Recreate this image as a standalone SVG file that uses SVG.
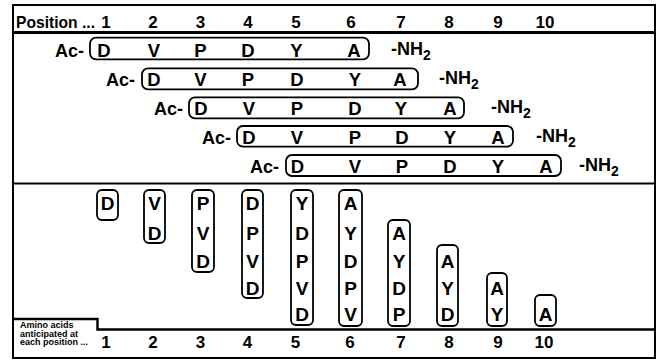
<svg xmlns="http://www.w3.org/2000/svg" width="656" height="362" viewBox="0 0 656 362">
<style>
.t{font-family:"Liberation Sans",Arial,sans-serif;font-weight:bold;fill:#000}
.lt{font-size:18.5px;text-anchor:middle}
.bl{font-size:19px;text-anchor:middle}
.hd{font-size:17px;text-anchor:middle}
.ac{font-size:18px;text-anchor:end}
.nh{font-size:18px}
.sm{font-size:9px}
.bx{fill:none;stroke:#000;stroke-width:1.8}
.ln{fill:none;stroke:#000}
</style>
<rect width="656" height="362" fill="#fff"/>
<g id="frame">
<rect x="13" y="5" width="642" height="353" class="ln" stroke-width="2"/>
<line x1="13" y1="32.5" x2="655" y2="32.5" class="ln" stroke-width="3"/>
<line x1="13" y1="183.5" x2="655" y2="183.5" class="ln" stroke-width="2"/>
<path d="M13 319 H97.5 V329.5 H655" class="ln" stroke-width="2.4"/>
</g>
<g id="header">
<text class="t" x="16" y="28" font-size="17" textLength="79" lengthAdjust="spacingAndGlyphs">Position ...</text>
<text class="t hd" x="106" y="28">1</text>
<text class="t hd" x="153" y="28">2</text>
<text class="t hd" x="200.5" y="28">3</text>
<text class="t hd" x="248" y="28">4</text>
<text class="t hd" x="296" y="28">5</text>
<text class="t hd" x="351" y="28">6</text>
<text class="t hd" x="401" y="28">7</text>
<text class="t hd" x="449" y="28">8</text>
<text class="t hd" x="498" y="28">9</text>
<text class="t hd" x="545" y="28">10</text>
</g>
<g id="peptide1">
<rect class="bx" x="90" y="37.7" width="279" height="21.6" rx="6"/>
<text class="t ac" x="84" y="57">Ac-</text>
<text class="t lt" x="104" y="57">D</text>
<text class="t lt" x="154" y="57">V</text>
<text class="t lt" x="200.5" y="57">P</text>
<text class="t lt" x="248" y="57">D</text>
<text class="t lt" x="296.5" y="57">Y</text>
<text class="t lt" x="354" y="57">A</text>
<text class="t nh" x="391" y="55">-NH<tspan font-size="14" dy="5">2</tspan></text>
</g>
<g id="peptide2">
<rect class="bx" x="142" y="68.3" width="276" height="21" rx="6"/>
<text class="t ac" x="135" y="86">Ac-</text>
<text class="t lt" x="154" y="86">D</text>
<text class="t lt" x="200.5" y="86">V</text>
<text class="t lt" x="248" y="86">P</text>
<text class="t lt" x="297" y="86">D</text>
<text class="t lt" x="355" y="86">Y</text>
<text class="t lt" x="400" y="86">A</text>
<text class="t nh" x="439" y="84">-NH<tspan font-size="14" dy="5">2</tspan></text>
</g>
<g id="peptide3">
<rect class="bx" x="189" y="97.3" width="275" height="21" rx="6"/>
<text class="t ac" x="183" y="115">Ac-</text>
<text class="t lt" x="201" y="115">D</text>
<text class="t lt" x="249" y="115">V</text>
<text class="t lt" x="297" y="115">P</text>
<text class="t lt" x="355" y="115">D</text>
<text class="t lt" x="401" y="115">Y</text>
<text class="t lt" x="450" y="115">A</text>
<text class="t nh" x="491" y="113">-NH<tspan font-size="14" dy="5">2</tspan></text>
</g>
<g id="peptide4">
<rect class="bx" x="237" y="126" width="276" height="20.7" rx="6"/>
<text class="t ac" x="231" y="143.5">Ac-</text>
<text class="t lt" x="249" y="143.5">D</text>
<text class="t lt" x="297" y="143.5">V</text>
<text class="t lt" x="355" y="143.5">P</text>
<text class="t lt" x="402" y="143.5">D</text>
<text class="t lt" x="450" y="143.5">Y</text>
<text class="t lt" x="498" y="143.5">A</text>
<text class="t nh" x="536" y="141.5">-NH<tspan font-size="14" dy="5">2</tspan></text>
</g>
<g id="peptide5">
<rect class="bx" x="286" y="155" width="275" height="21" rx="6"/>
<text class="t ac" x="279" y="172.5">Ac-</text>
<text class="t lt" x="297.5" y="172.5">D</text>
<text class="t lt" x="355" y="172.5">V</text>
<text class="t lt" x="402" y="172.5">P</text>
<text class="t lt" x="450" y="172.5">D</text>
<text class="t lt" x="498" y="172.5">Y</text>
<text class="t lt" x="546" y="172.5">A</text>
<text class="t nh" x="579" y="170.5">-NH<tspan font-size="14" dy="5">2</tspan></text>
</g>
<g id="col1">
<rect class="bx" x="97" y="190" width="21" height="30" rx="5"/>
<text class="t bl" x="107.5" y="210">D</text>
</g>
<g id="col2">
<rect class="bx" x="144" y="190" width="21" height="53" rx="5"/>
<text class="t bl" x="154.5" y="210">V</text>
<text class="t bl" x="154.5" y="239.5">D</text>
</g>
<g id="col3">
<rect class="bx" x="192" y="190" width="22" height="82" rx="5"/>
<text class="t bl" x="203" y="210">P</text>
<text class="t bl" x="203" y="239.5">V</text>
<text class="t bl" x="203" y="267.5">D</text>
</g>
<g id="col4">
<rect class="bx" x="242" y="190" width="21" height="108" rx="5"/>
<text class="t bl" x="252.5" y="210">D</text>
<text class="t bl" x="252.5" y="239.5">P</text>
<text class="t bl" x="252.5" y="267.5">V</text>
<text class="t bl" x="252.5" y="294.5">D</text>
</g>
<g id="col5">
<rect class="bx" x="291" y="190" width="22" height="135" rx="5"/>
<text class="t bl" x="302" y="210">Y</text>
<text class="t bl" x="302" y="239.5">D</text>
<text class="t bl" x="302" y="267.5">P</text>
<text class="t bl" x="302" y="294.5">V</text>
<text class="t bl" x="302" y="320.5">D</text>
</g>
<g id="col6">
<rect class="bx" x="339" y="190" width="23" height="136" rx="5"/>
<text class="t bl" x="350.5" y="210">A</text>
<text class="t bl" x="350.5" y="239.5">Y</text>
<text class="t bl" x="350.5" y="267.5">D</text>
<text class="t bl" x="350.5" y="294.5">P</text>
<text class="t bl" x="350.5" y="320.5">V</text>
</g>
<g id="col7">
<rect class="bx" x="388" y="220" width="22" height="106" rx="5"/>
<text class="t bl" x="399" y="239.5">A</text>
<text class="t bl" x="399" y="267.5">Y</text>
<text class="t bl" x="399" y="294.5">D</text>
<text class="t bl" x="399" y="320.5">P</text>
</g>
<g id="col8">
<rect class="bx" x="437" y="245" width="21" height="81" rx="5"/>
<text class="t bl" x="447.5" y="267.5">A</text>
<text class="t bl" x="447.5" y="294.5">Y</text>
<text class="t bl" x="447.5" y="320.5">D</text>
</g>
<g id="col9">
<rect class="bx" x="487" y="273" width="20" height="53" rx="5"/>
<text class="t bl" x="497" y="294.5">A</text>
<text class="t bl" x="497" y="320.5">Y</text>
</g>
<g id="col10">
<rect class="bx" x="535" y="295" width="21" height="31" rx="5"/>
<text class="t bl" x="545.5" y="320.5">A</text>
</g>
<g id="footer">
<text class="t sm" x="20" y="328">Amino acids</text>
<text class="t sm" x="20" y="336.5">anticipated at</text>
<text class="t sm" x="20" y="345">each position ...</text>
<text class="t hd" x="106" y="347.5">1</text>
<text class="t hd" x="153" y="347.5">2</text>
<text class="t hd" x="200.5" y="347.5">3</text>
<text class="t hd" x="247.5" y="347.5">4</text>
<text class="t hd" x="295.5" y="347.5">5</text>
<text class="t hd" x="350" y="347.5">6</text>
<text class="t hd" x="401" y="347.5">7</text>
<text class="t hd" x="449" y="347.5">8</text>
<text class="t hd" x="498" y="347.5">9</text>
<text class="t hd" x="544" y="347.5">10</text>
</g>
<g id="connectors"></g>
</svg>
